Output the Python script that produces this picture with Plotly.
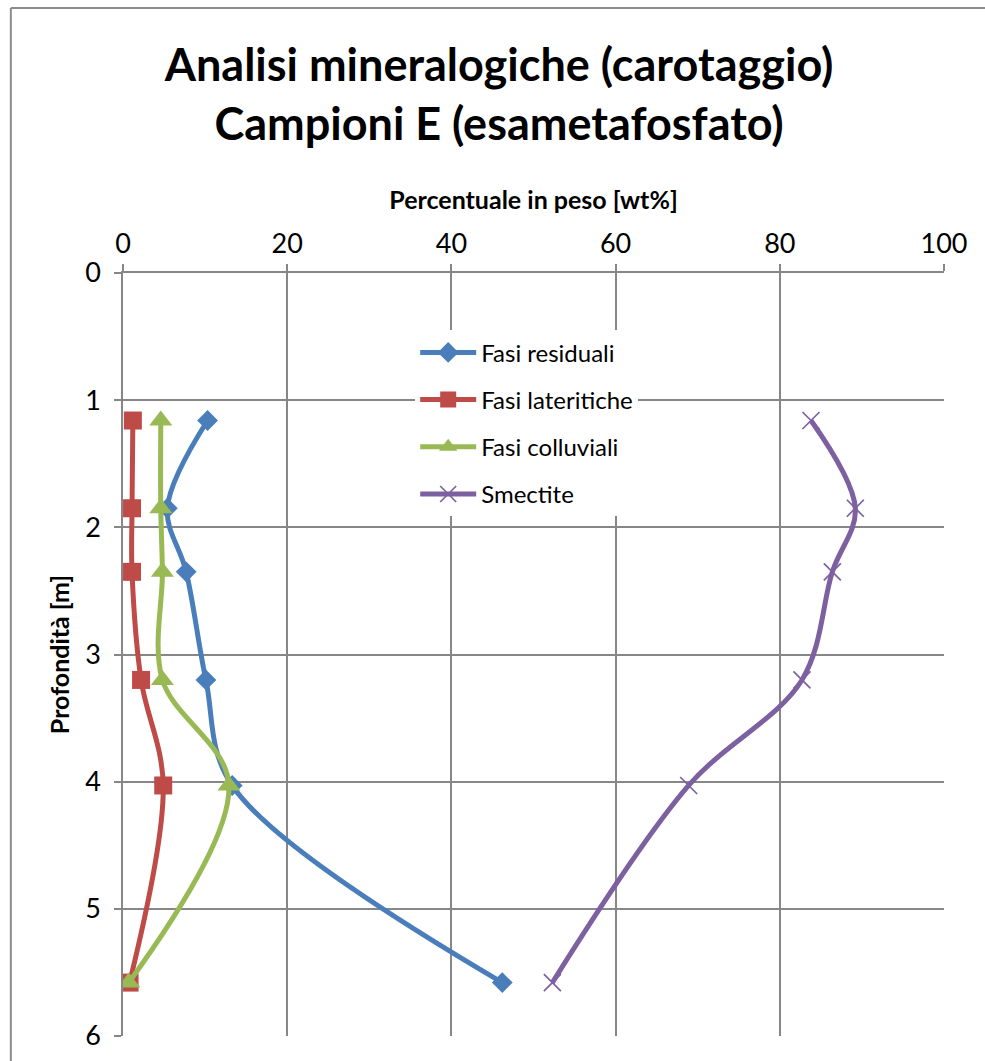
import plotly.graph_objects as go

# Profondità dei campioni [m]
depth = [1.16, 1.85, 2.35, 3.20, 4.03, 5.58]

# Percentuali in peso per fase mineralogica [wt%]
fasi_residuali = [10.3, 5.4, 7.7, 10.1, 13.3, 46.2]
fasi_lateritiche = [1.2, 1.1, 1.1, 2.2, 4.9, 0.8]
fasi_colluviali = [4.6, 4.6, 4.8, 4.8, 12.9, 0.7]
smectite = [83.8, 89.2, 86.4, 82.7, 68.9, 52.3]

x_ticks = [0, 20, 40, 60, 80, 100]
y_ticks = [0, 1, 2, 3, 4, 5, 6]

FONT = "Lato, 'Open Sans', sans-serif"
GRID = "#878787"
FRAME = "#8C8C8C"

series = [
    ("Fasi residuali", fasi_residuali, "#4A7EBB", dict(symbol="diamond", size=16)),
    ("Fasi lateritiche", fasi_lateritiche, "#BE4B48", dict(symbol="square", size=18)),
    ("Fasi colluviali", fasi_colluviali, "#98B954", dict(symbol="triangle-up", size=20)),
    ("Smectite", smectite, "#7D60A0",
     dict(symbol="x-thin", size=17, line=dict(width=1.7, color="#7D60A0"))),
]

fig = go.Figure()
for i, (name, vals, color, mk) in enumerate(series):
    fig.add_trace(go.Scatter(
        x=vals, y=depth, name=name, mode="lines+markers",
        line=dict(color=color, width=5, shape="spline", smoothing=1.0),
        marker=dict(color=color, **mk),
        legendgroup=f"g{i}",
    ))

# Layout geometry (pixels)
W, H = 985, 1061
ML, MR, MT, MB = 122.7, 41, 272.7, 25
PW, PH = W - ML - MR, H - MT - MB


def px_x(p):
    return (p - ML) / PW


def px_y(p):
    return 1 - (p - MT) / PH


# Chart frame: left and top edges
frame = [
    dict(type="line", xref="paper", yref="paper", layer="below",
         x0=px_x(10.5), x1=px_x(10.5), y0=px_y(7.5), y1=px_y(1090),
         line=dict(color=FRAME, width=2)),
    dict(type="line", xref="paper", yref="paper", layer="below",
         x0=px_x(10.5), x1=px_x(1010), y0=px_y(7.5), y1=px_y(7.5),
         line=dict(color=FRAME, width=2)),
]

fig.update_layout(
    width=W, height=H,
    margin=dict(l=ML, r=MR, t=MT, b=MB, autoexpand=False),
    paper_bgcolor="white", plot_bgcolor="white",
    font=dict(family=FONT, color="black"),
    title=dict(
        text="<b>Analisi mineralogiche (carotaggio)<br>Campioni E (esametafosfato)</b>",
        font=dict(family=FONT, size=45, color="black"),
        x=499 / W, xanchor="center", xref="container",
        y=1 - 81 / H, yanchor="top", yref="container",
    ),
    xaxis=dict(
        side="top", range=[0, 100], tickvals=x_ticks,
        ticks="outside", ticklen=7, tickcolor=GRID, tickwidth=1.5,
        showline=True, linecolor=GRID, linewidth=1.5,
        showgrid=True, gridcolor=GRID, gridwidth=1.5, zeroline=False,
        tickfont=dict(family=FONT, size=27),
        title=dict(text="<b>Percentuale in peso [wt%]</b>",
                   font=dict(family=FONT, size=25), standoff=10),
    ),
    yaxis=dict(
        range=[6, 0], tickvals=y_ticks,
        ticks="outside", ticklen=7, tickcolor=GRID, tickwidth=1.5,
        showline=True, linecolor=GRID, linewidth=1.5,
        showgrid=True, gridcolor=GRID, gridwidth=1.5, zeroline=False,
        tickfont=dict(family=FONT, size=27), ticklabelstandoff=8,
        title=dict(text="<b>Profondità [m]</b>",
                   font=dict(family=FONT, size=25), standoff=8),
    ),
    legend=dict(
        x=px_x(415), y=px_y(330), xanchor="left", yanchor="top",
        bgcolor="white", borderwidth=0,
        font=dict(family=FONT, size=24),
        traceorder="grouped", tracegroupgap=13, itemwidth=56,
    ),
    shapes=frame,
)

fig.write_html("out.html")
